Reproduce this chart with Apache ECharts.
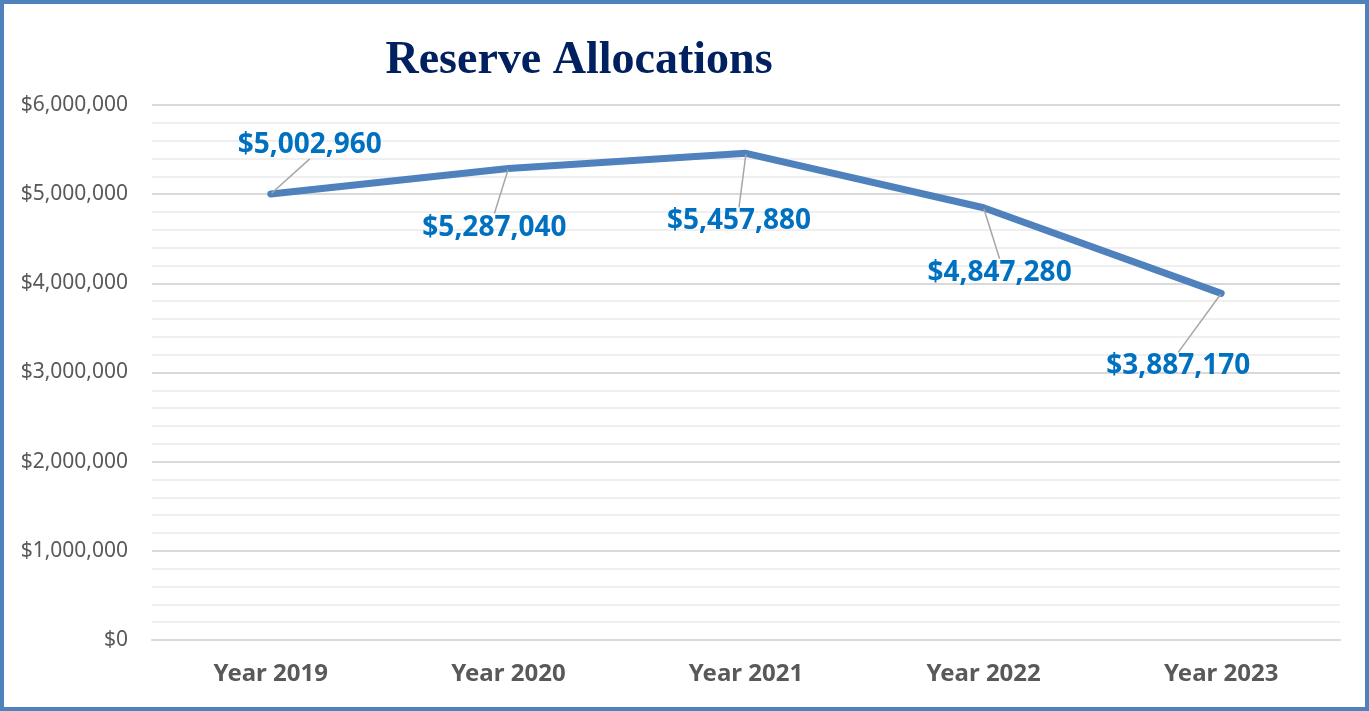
<!DOCTYPE html>
<html>
<head>
<meta charset="utf-8">
<title>Reserve Allocations</title>
<script src="https://cdn.jsdelivr.net/npm/echarts@6/dist/echarts.min.js"></script>
<style>
  html, body { margin: 0; padding: 0; background: #ffffff; }
  #chart { width: 1369px; height: 711px; }
</style>
</head>
<body>
<div id="chart"></div>
<script>
// Reserve allocations by year
const categories = ['Year 2019', 'Year 2020', 'Year 2021', 'Year 2022', 'Year 2023'];
const reserveValues = [5002960, 5287040, 5457880, 4847280, 3887170];
const yTicks = [0, 1000000, 2000000, 3000000, 4000000, 5000000, 6000000];

// Offsets (px) that move each value label away from its point
const labelShift = [[39, -49], [-14, 59], [-7, 68], [16, 65], [-43, 73]];

const money = v => '$' + Math.round(v).toLocaleString('en-US');

const chart = echarts.init(document.getElementById('chart'), null, { renderer: 'canvas' });

chart.setOption({
  animation: false,
  backgroundColor: '#ffffff',
  title: {
    text: 'Reserve Allocations',
    left: 574,
    top: 33,
    textAlign: 'center',
    textStyle: {
      fontFamily: '"Liberation Serif", "DejaVu Serif", serif',
      fontWeight: 'bold',
      fontSize: 46,
      color: '#002060'
    }
  },
  graphic: [{
    type: 'rect',
    shape: { x: 2, y: 2, width: 1365, height: 707 },
    style: { fill: 'none', stroke: '#4f81bd', lineWidth: 4 },
    silent: true
  }],
  grid: { left: 152, right: 29, top: 105, bottom: 71, containLabel: false },
  xAxis: {
    type: 'category',
    data: categories,
    boundaryGap: true,
    axisLine: { show: true, lineStyle: { color: '#d9d9d9', width: 2 } },
    axisTick: { show: false },
    axisLabel: {
      margin: 22,
      fontFamily: '"Noto Sans", sans-serif',
      fontWeight: 'bold',
      fontSize: 24,
      color: '#595959'
    }
  },
  yAxis: {
    type: 'value',
    min: yTicks[0],
    max: yTicks[yTicks.length - 1],
    interval: yTicks[1] - yTicks[0],
    axisLine: { show: false },
    axisTick: { show: false },
    axisLabel: {
      margin: 24,
      fontFamily: '"Noto Sans", sans-serif',
      fontSize: 21,
      color: '#595959',
      formatter: money
    },
    splitLine: { show: true, lineStyle: { color: '#d9d9d9', width: 2 } },
    minorTick: { show: false, splitNumber: 5 },
    minorSplitLine: { show: true, lineStyle: { color: '#efefef', width: 2 } }
  },
  series: [{
    type: 'line',
    data: reserveValues,
    symbol: 'circle',
    symbolSize: 2,
    showSymbol: true,
    itemStyle: { color: '#4f81bd' },
    lineStyle: { color: '#4f81bd', width: 7, cap: 'round', join: 'round' },
    label: {
      show: true,
      position: 'inside',
      padding: [12, 4],
      fontFamily: '"Noto Sans", sans-serif',
      fontWeight: 'bold',
      fontSize: 28,
      color: '#0070c0',
      formatter: p => money(p.value)
    },
    labelLine: {
      show: true,
      lineStyle: { color: '#a6a6a6', width: 1.5 }
    },
    labelLayout: p => ({ dx: labelShift[p.dataIndex][0], dy: labelShift[p.dataIndex][1] })
  }]
});
</script>
</body>
</html>
